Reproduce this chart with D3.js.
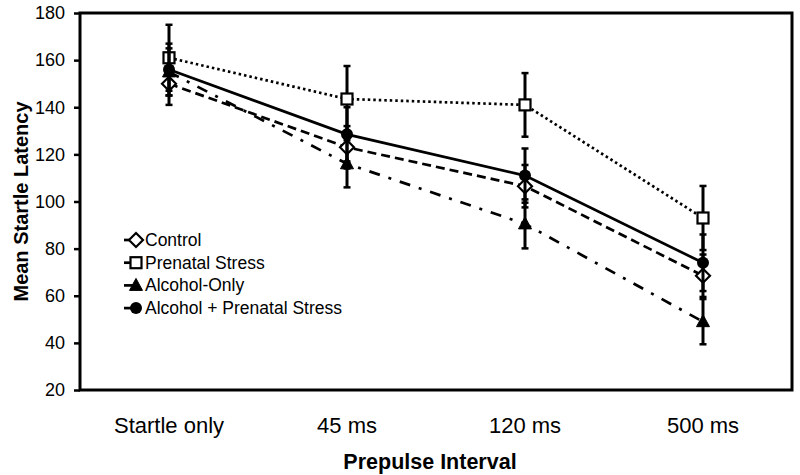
<!DOCTYPE html>
<html><head><meta charset="utf-8">
<script src="https://cdn.jsdelivr.net/npm/d3@7"></script>
<style>
body{margin:0;background:#fff;}
text{font-family:"Liberation Sans",Arial,sans-serif;fill:#000;}
</style></head>
<body><svg id="c" width="800" height="475"></svg>
<script>
const categories = ["Startle only","45 ms","120 ms","500 ms"];
const seriesNames = ["Control","Prenatal Stress","Alcohol-Only","Alcohol + Prenatal Stress"];
const controlVals = [150, 123, 106.5, 68.5];
const controlErr  = [9, 9, 9, 9];
const stressVals  = [161, 143.5, 141, 93];
const stressErr   = [14, 14, 13.5, 13.6];
const alcVals     = [155, 116, 90.5, 49];
const alcErr      = [10, 10, 10.4, 9.6];
const alcStressVals = [156, 128.5, 111, 74];
const alcStressErr  = [11, 11.5, 11.5, 12];
const yTicks = [20,40,60,80,100,120,140,160,180];

const series = [
  {name: seriesNames[0], vals: controlVals, err: controlErr, marker: "diamond", dash: "9,5"},
  {name: seriesNames[1], vals: stressVals, err: stressErr, marker: "square", dash: "2.5,3"},
  {name: seriesNames[2], vals: alcVals, err: alcErr, marker: "triangle", dash: "11,9,3,9"},
  {name: seriesNames[3], vals: alcStressVals, err: alcStressErr, marker: "circle", dash: null}
];

const svg = d3.select("#c");
const L = 80, R = 792, T = 13, B = 390;
const x = d3.scaleBand().domain(categories).range([L, R]).padding(0);
const y = d3.scaleLinear().domain([20, 180]).range([B, T]);
const cx = c => x(c) + x.bandwidth() / 2;

// y axis
const yAxis = d3.axisLeft(y).tickValues(yTicks).tickSize(6).tickPadding(9);
const yg = svg.append("g").attr("transform", `translate(${L},0)`).call(yAxis);
yg.select(".domain").remove();
yg.selectAll(".tick line").attr("stroke", "#000").attr("stroke-width", 2.5);
yg.selectAll(".tick text").style("font-size", "18px").attr("fill", "#000");

// x labels
const xAxis = d3.axisBottom(x).tickSize(0).tickPadding(27);
const xg = svg.append("g").attr("transform", `translate(0,${B})`).call(xAxis);
xg.select(".domain").remove();
xg.selectAll(".tick text").style("font-size", "22px").attr("fill", "#000");

// box
svg.append("rect").attr("x", L).attr("y", T).attr("width", R - L).attr("height", B - T)
  .attr("fill", "none").attr("stroke", "#000").attr("stroke-width", 3);

// axis titles
svg.append("text").attr("x", 430).attr("y", 469).attr("text-anchor", "middle")
  .style("font-size", "21.5px").style("font-weight", "bold").text("Prepulse Interval");
svg.append("text").attr("transform", `translate(28,${(T + B) / 2}) rotate(-90)`)
  .attr("text-anchor", "middle").style("font-size", "20px").style("font-weight", "bold")
  .text("Mean Startle Latency");

function drawMarker(g, type, px, py) {
  if (type === "diamond") {
    g.append("path").attr("d", `M${px},${py-7}L${px+7},${py}L${px},${py+7}L${px-7},${py}Z`)
      .attr("fill", "#fff").attr("stroke", "#000").attr("stroke-width", 2.2);
  } else if (type === "square") {
    g.append("rect").attr("x", px - 5.5).attr("y", py - 5.5).attr("width", 11).attr("height", 11)
      .attr("fill", "#fff").attr("stroke", "#000").attr("stroke-width", 2.2);
  } else if (type === "triangle") {
    g.append("path").attr("d", `M${px},${py-7}L${px+6.5},${py+5}L${px-6.5},${py+5}Z`)
      .attr("fill", "#000").attr("stroke", "#000").attr("stroke-width", 1);
  } else {
    g.append("circle").attr("cx", px).attr("cy", py).attr("r", 6).attr("fill", "#000");
  }
}

const line = d3.line().x((d, i) => cx(categories[i])).y(d => y(d));

series.forEach(s => {
  const g = svg.append("g");
  s.vals.forEach((v, i) => {
    const px = cx(categories[i]);
    g.append("line").attr("x1", px).attr("x2", px).attr("y1", y(v - s.err[i])).attr("y2", y(v + s.err[i]))
      .attr("stroke", "#000").attr("stroke-width", 3);
    [v - s.err[i], v + s.err[i]].forEach(e => {
      g.append("line").attr("x1", px - 3.5).attr("x2", px + 3.5).attr("y1", y(e)).attr("y2", y(e))
        .attr("stroke", "#000").attr("stroke-width", 2.5);
    });
  });
  const p = g.append("path").datum(s.vals).attr("d", line).attr("fill", "none")
    .attr("stroke", "#000").attr("stroke-width", 2.7);
  if (s.dash) p.attr("stroke-dasharray", s.dash);
  s.vals.forEach((v, i) => drawMarker(g, s.marker, cx(categories[i]), y(v)));
});

// legend
const leg = svg.append("g");
series.forEach((s, i) => {
  const ly = 240 + i * 22.7;
  leg.append("line").attr("x1", 124).attr("x2", 136).attr("y1", ly).attr("y2", ly)
    .attr("stroke", "#000").attr("stroke-width", 2.7);
  drawMarker(leg, s.marker, 136, ly);
  leg.append("text").attr("x", 145).attr("y", ly + 6).style("font-size", "17.5px").text(s.name);
});
</script></body></html>
